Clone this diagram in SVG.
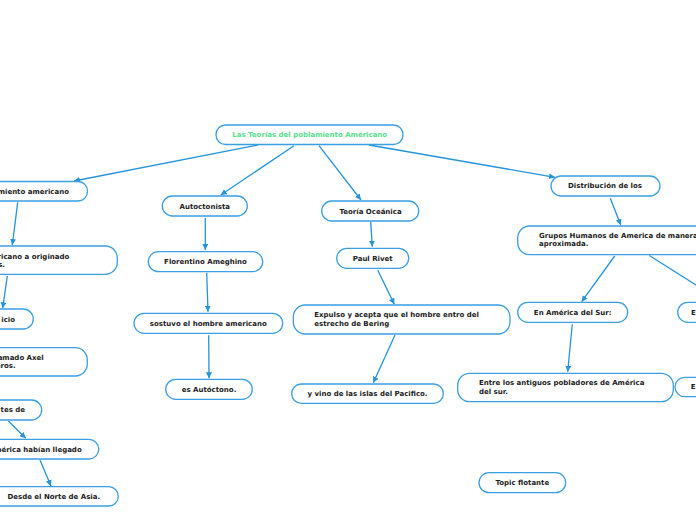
<svg xmlns="http://www.w3.org/2000/svg" width="696" height="520" viewBox="0 0 696 520">
<defs>
<style>
.n rect{fill:#fff;stroke:#3a9fe3;stroke-width:1.3}
text{font-family:"DejaVu Sans",Verdana,sans-serif;font-weight:bold;font-size:7px;fill:#1b1b1b}
.c{text-anchor:middle}
.e{text-anchor:end}
#connectors line{stroke:#2494dd;stroke-width:1.3;fill:none;marker-end:url(#ah)}
</style>
<marker id="ah" viewBox="0 0 10 10" refX="10" refY="5" markerWidth="6" markerHeight="6" markerUnits="userSpaceOnUse" orient="auto">
<path d="M0,0 L10,5 L0,10 z" fill="#2494dd"/>
</marker>
</defs>
<rect width="696" height="520" fill="#fff"/>
<g id="connectors">
<line x1="258" y1="145" x2="74" y2="181"/>
<line x1="294" y1="145.7" x2="220.7" y2="195"/>
<line x1="319" y1="145.7" x2="361" y2="200"/>
<line x1="369" y1="145" x2="555" y2="177.3"/>
<line x1="17.7" y1="202.3" x2="12.3" y2="245"/>
<line x1="7.3" y1="276" x2="2.7" y2="308.3"/>
<line x1="8.3" y1="421" x2="25.7" y2="438.3"/>
<line x1="40" y1="460" x2="51" y2="486"/>
<line x1="205.3" y1="218" x2="205.3" y2="250"/>
<line x1="206.7" y1="272.7" x2="208" y2="311.7"/>
<line x1="208.7" y1="335.3" x2="209" y2="378.3"/>
<line x1="370.7" y1="222" x2="372.3" y2="246.7"/>
<line x1="377.7" y1="270" x2="394.3" y2="304.3"/>
<line x1="395" y1="335" x2="373.3" y2="382.7"/>
<line x1="610.3" y1="198.3" x2="620.7" y2="225"/>
<line x1="614.7" y1="256" x2="581.7" y2="301.7"/>
<line x1="649.3" y1="255.5" x2="723" y2="302"/>
<line x1="572.3" y1="324.3" x2="567.7" y2="371.7"/>
</g>
<g id="root" class="n"><rect x="216" y="125" width="187" height="19.5" rx="9.5"/><text class="c" x="309.7" y="137" style="fill:#57e08e">Las Teorías del poblamiento Américano</text></g>
<g id="left1" class="n"><rect x="-40" y="181.5" width="127.5" height="19.5" rx="9.5"/><text class="e" x="69" y="194">miento americano</text></g>
<g id="autoctonista" class="n"><rect x="162.3" y="196" width="85" height="20" rx="10"/><text class="c" x="204.8" y="208.7">Autoctonista</text></g>
<g id="oceanica" class="n"><rect x="321.7" y="201" width="97" height="20" rx="10"/><text class="c" x="370.5" y="213.8">Teoría Oceánica</text></g>
<g id="distribucion" class="n"><rect x="551" y="176" width="109" height="20" rx="10"/><text class="c" x="605" y="188.3">Distribución de los</text></g>
<g id="left2" class="n"><rect x="-40" y="246" width="157.3" height="28.3" rx="12"/><text class="e" x="69.3" y="258.7">ricano a originado</text><text class="e" x="5" y="266.5">s.</text></g>
<g id="florentino" class="n"><rect x="148.3" y="251.7" width="114.4" height="20" rx="10"/><text class="c" x="205.5" y="264.2">Florentino Ameghino</text></g>
<g id="paulrivet" class="n"><rect x="336.7" y="248.3" width="72" height="20" rx="10"/><text class="c" x="372.7" y="260.8">Paul Rivet</text></g>
<g id="grupos" class="n"><rect x="517.7" y="226" width="220" height="28.7" rx="12"/><text x="539" y="238.3">Grupos Humanos de America de manera</text><text x="539" y="246.3">aproximada.</text></g>
<g id="left3" class="n"><rect x="-40" y="309" width="73.3" height="20" rx="10"/><text class="e" x="15" y="321.5">icio</text></g>
<g id="expulso" class="n"><rect x="293.3" y="305" width="216.7" height="29" rx="12"/><text x="314.3" y="316.7">Expulso y acepta que el hombre entro del</text><text x="314.3" y="326">estrecho de Bering</text></g>
<g id="enamerica" class="n"><rect x="517.7" y="302.3" width="110" height="20" rx="10"/><text class="c" x="572.7" y="314.5">En América del Sur:</text></g>
<g id="right1" class="n"><rect x="677.7" y="302.3" width="80" height="20" rx="10"/><text x="691" y="314.5">E</text></g>
<g id="sostuvo" class="n"><rect x="134" y="313.3" width="148.7" height="20" rx="10"/><text class="c" x="208.3" y="325.8">sostuvo el hombre americano</text></g>
<g id="left4" class="n"><rect x="-40" y="347.7" width="127.3" height="28.3" rx="12"/><text class="e" x="43.7" y="359.5">amado Axel</text><text class="e" x="15.7" y="367.7">eros.</text></g>
<g id="entre" class="n"><rect x="457.7" y="373.3" width="215.6" height="28.4" rx="12"/><text x="479" y="385.3">Entre los antiguos pobladores de América</text><text x="479" y="394.3">del sur.</text></g>
<g id="right2" class="n"><rect x="675" y="377.3" width="80" height="19.4" rx="9.7"/><text x="690.7" y="389.3">E</text></g>
<g id="esautoctono" class="n"><rect x="165.7" y="379.3" width="86.6" height="20" rx="10"/><text class="c" x="209" y="391.8">es Autóctono.</text></g>
<g id="yvino" class="n"><rect x="291.7" y="384" width="151.6" height="19.3" rx="9.6"/><text class="c" x="367.5" y="395.5">y vino de las islas del Pacifico.</text></g>
<g id="left5" class="n"><rect x="-40" y="400" width="81.7" height="20" rx="10"/><text class="e" x="25" y="412.3">tes de</text></g>
<g id="left6" class="n"><rect x="-40" y="439.3" width="138.7" height="19.7" rx="9.8"/><text class="e" x="81.7" y="451.5">mérica habían llegado</text></g>
<g id="topic" class="n"><rect x="479" y="472.7" width="86.7" height="20" rx="10"/><text class="c" x="522.3" y="485">Topic flotante</text></g>
<g id="left7" class="n"><rect x="-10.7" y="486.7" width="129" height="19.3" rx="9.6"/><text class="c" x="53.8" y="498.8">Desde el Norte de Asia.</text></g>
</svg>
